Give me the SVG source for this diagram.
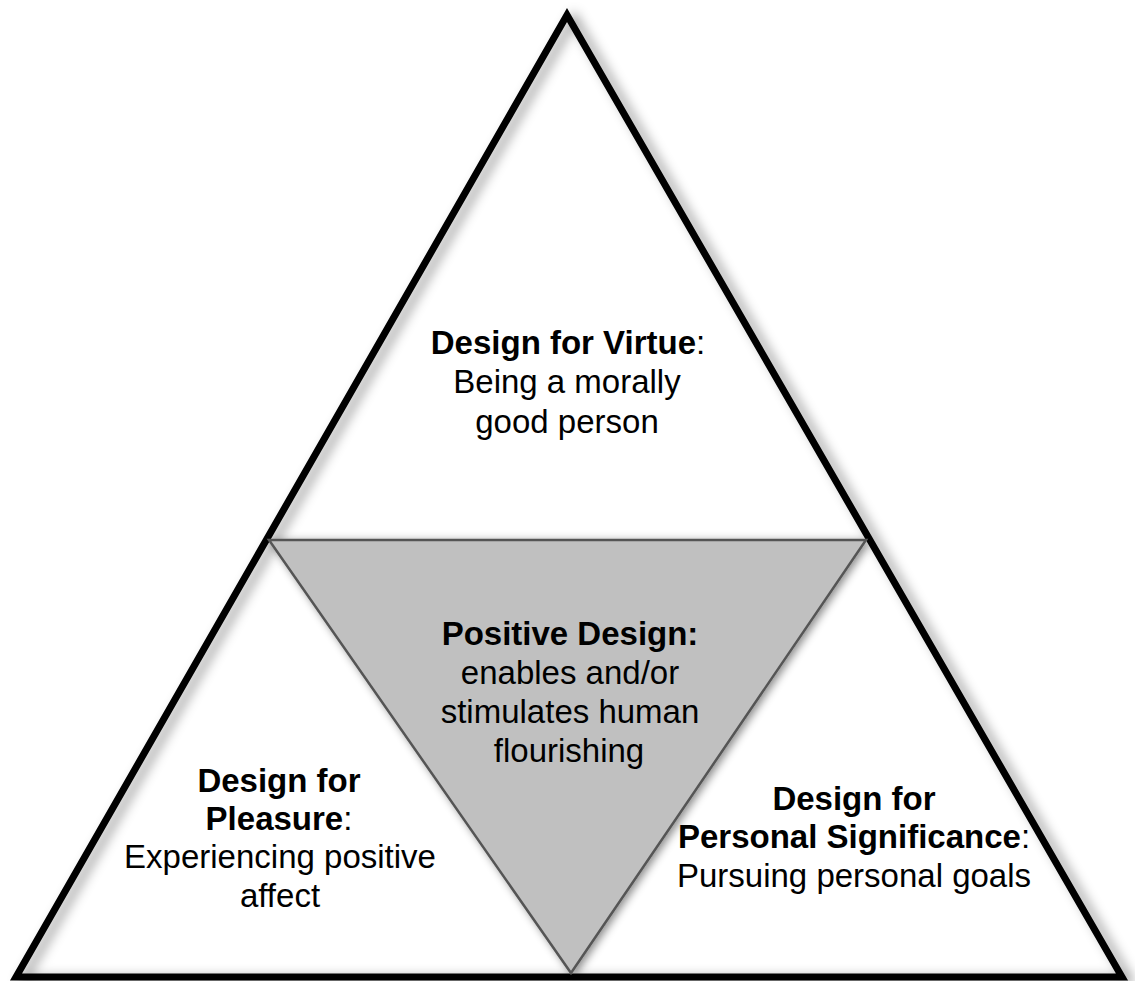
<svg xmlns="http://www.w3.org/2000/svg" width="1135" height="981" viewBox="0 0 1135 981">
<style>
  text { font-family: "Liberation Sans", Arial, sans-serif; font-size: 33px; fill: #000; text-anchor: middle; }
  .b { font-weight: bold; }
  .outer { fill: none; stroke: #000; stroke-width: 7; stroke-linejoin: miter; }
  .inner { fill: #c0c0c0; stroke: #555; stroke-width: 2.5; stroke-linejoin: miter; }
</style>
<defs>
  <filter id="sh" x="-10%" y="-10%" width="125%" height="125%">
    <feDropShadow dx="7" dy="3" stdDeviation="6" flood-color="#000" flood-opacity="0.4"/>
  </filter>
  <filter id="sh2" x="-10%" y="-10%" width="125%" height="125%">
    <feDropShadow dx="3" dy="2" stdDeviation="4" flood-color="#000" flood-opacity="0.45"/>
  </filter>
</defs>
<rect width="1135" height="981" fill="#fff"/>
<g id="outer-triangle">
  <polygon points="16,977 567,15 1122,977" fill="#fff"/>
  <polygon class="outer" points="16,977 567,15 1122,977" filter="url(#sh)"/>
</g>
<g id="positive-design">
  <polygon class="inner" points="269,540 866,540 571,973" filter="url(#sh2)"/>
  <text x="570" y="645"><tspan class="b">Positive Design:</tspan></text>
  <text x="570" y="684">enables and/or</text>
  <text x="570" y="723">stimulates human</text>
  <text x="569" y="762">flourishing</text>
</g>
<g id="virtue">
  <text x="568" y="354"><tspan class="b">Design for Virtue</tspan>:</text>
  <text x="567" y="393">Being a morally</text>
  <text x="567" y="433">good person</text>
</g>
<g id="pleasure">
  <text x="279" y="792" class="b">Design for</text>
  <text x="279" y="830"><tspan class="b">Pleasure</tspan>:</text>
  <text x="280" y="868">Experiencing positive</text>
  <text x="280" y="907">affect</text>
</g>
<g id="significance">
  <text x="854" y="810" class="b">Design for</text>
  <text x="854" y="848"><tspan class="b">Personal Significance</tspan>:</text>
  <text x="854" y="887">Pursuing personal goals</text>
</g>
<g id="connectors"></g>
</svg>
